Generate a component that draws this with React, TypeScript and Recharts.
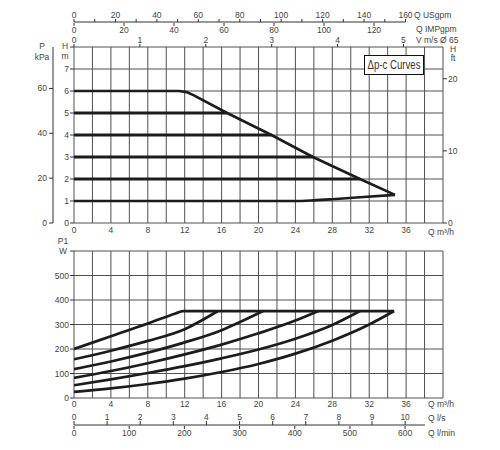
import React from "react";
import { LineChart, Line, XAxis, YAxis, CartesianGrid } from "recharts";

const FONT = "'Liberation Sans', Arial, sans-serif";
const INK = "#444";
const CURVE = "#1c1c1c";
const GRID = "#505050";

// shared flow axis, m³/h
const Q_TICKS = [0, 2, 4, 6, 8, 10, 12, 14, 16, 18, 20, 22, 24, 26, 28, 30, 32, 34, 36, 38, 40];
const H_TICKS = [0, 1, 2, 3, 4, 5, 6, 7, 8];
const KPA_TICKS = [0, 20, 40, 60];
const FT_TICKS = [0, 10, 20];
const V_TICKS = [0, 1, 2, 3, 4, 5];
const US_TICKS = [0, 10, 20, 30, 40, 50, 60, 70, 80, 90, 100, 110, 120, 130, 140, 150, 160];
const IMP_TICKS = [0, 20, 40, 60, 80, 100, 120];
const W_TICKS = [0, 100, 200, 300, 400, 500, 600];
const LS_TICKS = [0, 1, 2, 3, 4, 5, 6, 7, 8, 9, 10];
const LMIN_TICKS = [0, 100, 200, 300, 400, 500, 600];

// head curves (Q m³/h, H m)
const H1_Q = [0, 24, 26, 28, 31, 34.8];
const H1_H = [1, 1, 1.03, 1.08, 1.17, 1.28];
const H2_Q = [0, 31];
const H2_H = [2, 2];
const H3_Q = [0, 25.9];
const H3_H = [3, 3];
const H4_Q = [0, 21.4];
const H4_H = [4, 4];
const H5_Q = [0, 16.6];
const H5_H = [5, 5];
const HMAX_Q = [0, 11.4, 12.2, 13, 16.6, 21.4, 25.9, 31, 34.8];
const HMAX_H = [6, 6, 5.95, 5.8, 5, 4, 3, 2, 1.28];

// power curves (Q m³/h, P1 W)
const P1_Q = [0, 4, 8, 12, 16, 20, 24, 28, 32, 34.7];
const P1_W = [25, 39, 57, 79, 106, 139, 181, 234, 300, 355];
const P2_Q = [0, 4, 8, 12, 16, 20, 24, 28, 31];
const P2_W = [52, 76, 102, 130, 162, 198, 242, 298, 355];
const P3_Q = [0, 4, 8, 12, 16, 20, 24, 26.5];
const P3_W = [82, 110, 142, 178, 218, 264, 316, 355];
const P4_Q = [0, 4, 8, 12, 16, 18, 20.5];
const P4_W = [118, 149, 185, 227, 277, 310, 355];
const P5_Q = [0, 4, 8, 12, 15.6];
const P5_W = [158, 193, 233, 281, 355];
const P6_Q = [0, 4, 8, 11, 11.8, 34.7];
const P6_W = [200, 252, 304, 345, 355, 355];

const pts = (qs: number[], vs: number[]) => qs.map((q, i) => ({ q, v: vs[i] }));
const rows = (ticks: number[]) => ticks.map((t) => ({ t }));

const HEAD = [
  { d: pts(H1_Q, H1_H), w: 2.6, t: "monotone" },
  { d: pts(H2_Q, H2_H), w: 3, t: "linear" },
  { d: pts(H3_Q, H3_H), w: 3, t: "linear" },
  { d: pts(H4_Q, H4_H), w: 3, t: "linear" },
  { d: pts(H5_Q, H5_H), w: 3, t: "linear" },
  { d: pts(HMAX_Q, HMAX_H), w: 2.6, t: "linear" },
];
const POWER = [
  pts(P1_Q, P1_W),
  pts(P2_Q, P2_W),
  pts(P3_Q, P3_W),
  pts(P4_Q, P4_W),
  pts(P5_Q, P5_W),
  pts(P6_Q, P6_W),
];

const tickFont = { fontSize: 8.5, fill: INK, fontFamily: FONT };
const tickLine = { stroke: "#333" };

const qTick = (dy: number) => (p: any) => {
  const v = p.payload.value;
  if (v % 4 !== 0 || v >= 40) return <g />;
  return (
    <text x={p.x} y={p.y + dy} textAnchor="middle" {...tickFont}>
      {v}
    </text>
  );
};

const leftTick = (hide: number) => (p: any) =>
  p.payload.value === hide ? (
    <g />
  ) : (
    <text x={p.x} y={p.y} dy={3} textAnchor="end" {...tickFont}>
      {p.payload.value}
    </text>
  );

const usTick = (p: any) =>
  p.payload.value % 20 !== 0 ? (
    <g />
  ) : (
    <text x={p.x} y={p.y} textAnchor="middle" {...tickFont}>
      {p.payload.value}
    </text>
  );

function Lbl({ x, y, t, align = "left", size = 8.5 }: { x: number; y: number; t: string; align?: string; size?: number }) {
  const tx = align === "center" ? "-50%" : align === "right" ? "-100%" : "0";
  return (
    <div
      style={{
        position: "absolute", left: x, top: y, transform: `translate(${tx}, -50%)`,
        fontSize: size, lineHeight: 1, color: INK, whiteSpace: "nowrap", fontFamily: FONT,
      }}
    >
      {t}
    </div>
  );
}

export default function App() {
  return (
    <div style={{ position: "absolute", left: 0, top: 0, width: 500, height: 450, background: "#fff", overflow: "hidden" }}>
      {/* top scales: USgpm / IMPgpm */}
      <div style={{ position: "absolute", left: 0, top: 0 }}>
        <LineChart width={500} height={40} data={rows(US_TICKS)} margin={{ top: 0, left: 74, right: 94.5, bottom: 0 }}>
          <XAxis xAxisId="us" dataKey="t" orientation="top" type="number" domain={[0, 160]} allowDataOverflow ticks={US_TICKS} interval={0}
            height={22} tickSize={3} tickMargin={1} axisLine={tickLine} tickLine={tickLine} tick={usTick} />
          <XAxis xAxisId="imp" dataKey="t" orientation="bottom" type="number" domain={[0, 132.6]} allowDataOverflow ticks={IMP_TICKS} interval={0}
            height={17} tickSize={3} tickMargin={1} axisLine={false} tickLine={tickLine} tick={tickFont} />
          <YAxis hide domain={[0, 1]} />
        </LineChart>
      </div>

      {/* velocity scale */}
      <div style={{ position: "absolute", left: 0, top: 22 }}>
        <LineChart width={500} height={27} data={rows(V_TICKS)} margin={{ top: 0, left: 74, right: 57, bottom: 0 }}>
          <XAxis xAxisId="v" dataKey="t" orientation="top" type="number" domain={[0, 5.6]} allowDataOverflow ticks={V_TICKS} interval={0}
            height={25} tickSize={3} tickMargin={1} axisLine={false} tickLine={tickLine} tick={tickFont} />
          <YAxis hide domain={[0, 1]} />
        </LineChart>
      </div>

      {/* head chart */}
      <div style={{ position: "absolute", left: 0, top: 0 }}>
        <LineChart width={500} height={240} margin={{ top: 47, left: 13, right: 37, bottom: 0 }}>
          <CartesianGrid xAxisId="q" yAxisId="h" stroke={GRID} strokeWidth={1} />
          <XAxis xAxisId="q" dataKey="q" type="number" domain={[0, 40]} allowDataOverflow ticks={Q_TICKS} interval={0}
            height={17} tickSize={0} tickMargin={0} axisLine={false} tickLine={false} tick={qTick(10)} />
          <YAxis yAxisId="h" type="number" domain={[0, 8]} allowDataOverflow ticks={H_TICKS} interval={0} width={21}
            tickSize={4} tickMargin={1} axisLine={false} tickLine={tickLine} tick={leftTick(8)} />
          <YAxis yAxisId="p" type="number" domain={[0, 78.48]} allowDataOverflow ticks={KPA_TICKS} interval={0} width={40}
            tickSize={4} tickMargin={2} axisLine={tickLine} tickLine={tickLine} tick={tickFont} />
          <YAxis yAxisId="ft" orientation="right" type="number" domain={[0, 24.4]} allowDataOverflow ticks={FT_TICKS} interval={0} width={20}
            tickSize={4} tickMargin={1} axisLine={false} tickLine={tickLine} tick={tickFont} />
          {HEAD.map((s, i) => (
            <Line key={i} xAxisId="q" yAxisId="h" data={s.d} dataKey="v" type={s.t as any} stroke={CURVE}
              strokeWidth={s.w} dot={false} activeDot={false} isAnimationActive={false} />
          ))}
        </LineChart>
      </div>

      {/* power chart */}
      <div style={{ position: "absolute", left: 0, top: 240 }}>
        <LineChart width={500} height={185} margin={{ top: 11, left: 34, right: 57, bottom: 0 }}>
          <CartesianGrid xAxisId="q" yAxisId="w" stroke={GRID} strokeWidth={1} />
          <XAxis xAxisId="q" dataKey="q" type="number" domain={[0, 40]} allowDataOverflow ticks={Q_TICKS} interval={0}
            height={27} tickSize={0} tickMargin={0} axisLine={false} tickLine={false} tick={qTick(9)} />
          <YAxis yAxisId="w" type="number" domain={[0, 600]} allowDataOverflow ticks={W_TICKS} interval={0} width={40}
            tickSize={4} tickMargin={1} axisLine={false} tickLine={tickLine} tick={leftTick(600)} />
          {POWER.map((d, i) => (
            <Line key={i} xAxisId="q" yAxisId="w" data={d} dataKey="v" type="monotone" stroke={CURVE}
              strokeWidth={2.7} dot={false} activeDot={false} isAnimationActive={false} />
          ))}
        </LineChart>
      </div>

      {/* bottom scales: l/s and l/min */}
      <div style={{ position: "absolute", left: 0, top: 405 }}>
        <LineChart width={500} height={38} data={rows(LS_TICKS)} margin={{ top: 0, left: 74, right: 75, bottom: 0 }}>
          <XAxis xAxisId="ls" dataKey="t" orientation="top" type="number" domain={[0, 10.6]} allowDataOverflow ticks={LS_TICKS} interval={0}
            height={20} tickSize={4} tickMargin={1} axisLine={tickLine} tickLine={tickLine} tick={tickFont} />
          <XAxis xAxisId="lmin" dataKey="t" orientation="bottom" type="number" domain={[0, 636]} allowDataOverflow ticks={LMIN_TICKS} interval={0}
            height={17} tickSize={3} tickMargin={1} axisLine={false} tickLine={tickLine} tick={tickFont} />
          <YAxis hide domain={[0, 1]} />
        </LineChart>
      </div>

      {/* axis titles */}
      <Lbl x={414} y={15} t="Q USgpm" />
      <Lbl x={416} y={29} t="Q IMPgpm" />
      <Lbl x={416} y={40} t="V m/s Ø 65" />
      <Lbl x={42} y={46} t="P" align="center" />
      <Lbl x={42} y={57} t="kPa" align="center" />
      <Lbl x={65} y={46} t="H" align="center" />
      <Lbl x={65} y={56} t="m" align="center" />
      <Lbl x={453} y={49} t="H" align="center" />
      <Lbl x={453} y={58} t="ft" align="center" />
      <Lbl x={428} y={232} t="Q m³/h" />
      <Lbl x={63} y={241} t="P1" align="center" />
      <Lbl x={63} y={251} t="W" align="center" />
      <Lbl x={428} y={404} t="Q m³/h" />
      <Lbl x={428} y={418} t="Q l/s" />
      <Lbl x={428} y={433} t="Q l/min" />

      <div
        style={{
          position: "absolute", left: 364, top: 55, width: 60, height: 20, boxSizing: "border-box",
          border: "1.5px solid #111", background: "#fff", display: "flex", alignItems: "center", justifyContent: "center",
          fontFamily: FONT, fontSize: 12, color: "#333", whiteSpace: "nowrap",
        }}
      >
        <span style={{ display: "inline-block", transform: "scaleX(0.8)" }}>Δp-c Curves</span>
      </div>
    </div>
  );
}
